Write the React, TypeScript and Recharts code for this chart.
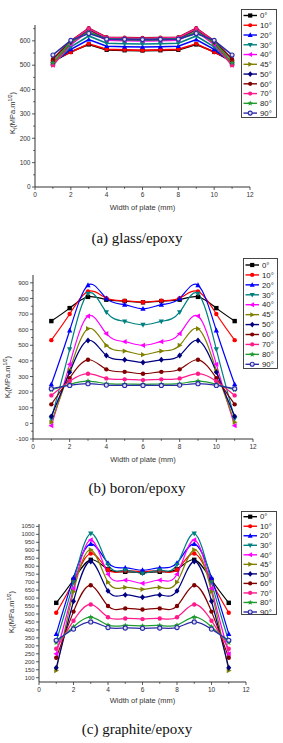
import React from 'react';
import { LineChart, Line, XAxis, YAxis, Legend } from 'recharts';

const X_VALUES = [1, 2, 3, 4, 5, 6, 7, 8, 9, 10, 11];
const X_TICKS = [0, 1, 2, 3, 4, 5, 6, 7, 8, 9, 10, 11, 12];

const ANGLES = ['0°', '10°', '20°', '30°', '40°', '45°', '50°', '60°', '70°', '80°', '90°'];
const COLORS = [
  '#000000', '#ff0000', '#0000ff', '#008080', '#ff00ff', '#808000',
  '#00007f', '#800000', '#ff1a8c', '#1f9b2f', '#2b2ba8',
];
const SHAPES = ['square', 'circle', 'triUp', 'triDown', 'triLeft', 'triRight', 'diamond', 'circle', 'circle', 'star', 'ring'];

// (a) glass/epoxy
const GLASS_0 = [515, 555, 585, 563, 561, 560, 561, 563, 585, 555, 515];
const GLASS_10 = [520, 553, 588, 565, 563, 561, 563, 565, 588, 553, 520];
const GLASS_20 = [510, 565, 605, 578, 576, 575, 576, 578, 605, 565, 510];
const GLASS_30 = [505, 575, 620, 590, 588, 587, 588, 590, 620, 575, 505];
const GLASS_40 = [500, 585, 640, 603, 601, 600, 601, 603, 640, 585, 500];
const GLASS_45 = [500, 590, 645, 607, 605, 604, 605, 607, 645, 590, 500];
const GLASS_50 = [505, 595, 648, 610, 608, 607, 608, 610, 648, 595, 505];
const GLASS_60 = [525, 600, 652, 615, 613, 612, 613, 615, 652, 600, 525];
const GLASS_70 = [500, 598, 650, 613, 611, 610, 611, 613, 650, 598, 500];
const GLASS_80 = [510, 597, 635, 608, 606, 605, 606, 608, 635, 597, 510];
const GLASS_90 = [542, 602, 630, 607, 606, 605, 606, 607, 630, 602, 542];

// (b) boron/epoxy
const BORON_0 = [655, 738, 810, 792, 783, 775, 783, 792, 810, 738, 655];
const BORON_10 = [533, 700, 845, 802, 785, 776, 785, 802, 845, 700, 533];
const BORON_20 = [250, 595, 885, 800, 760, 734, 760, 800, 885, 595, 250];
const BORON_30 = [30, 474, 830, 712, 653, 631, 653, 712, 830, 474, 30];
const BORON_40 = [-15, 378, 687, 574, 523, 500, 523, 574, 687, 378, -15];
const BORON_45 = [8, 340, 606, 500, 463, 440, 463, 500, 606, 340, 8];
const BORON_50 = [45, 328, 531, 435, 407, 390, 407, 435, 531, 328, 45];
const BORON_60 = [122, 290, 407, 346, 330, 318, 330, 346, 407, 290, 122];
const BORON_70 = [179, 270, 318, 288, 282, 277, 282, 288, 318, 270, 179];
const BORON_80 = [215, 250, 271, 254, 252, 250, 252, 254, 271, 250, 215];
const BORON_90 = [222, 243, 254, 245, 243, 243, 243, 245, 254, 243, 222];

// (c) graphite/epoxy
const GRAPH_0 = [570, 715, 840, 780, 765, 760, 765, 780, 840, 715, 570];
const GRAPH_10 = [508, 705, 880, 778, 772, 765, 772, 778, 880, 705, 508];
const GRAPH_20 = [375, 728, 940, 820, 790, 775, 790, 820, 940, 728, 375];
const GRAPH_30 = [330, 700, 1005, 810, 775, 755, 775, 810, 1005, 700, 330];
const GRAPH_40 = [250, 660, 965, 750, 712, 693, 712, 750, 965, 660, 250];
const GRAPH_45 = [145, 640, 903, 700, 667, 655, 667, 700, 903, 640, 145];
const GRAPH_50 = [162, 580, 830, 645, 620, 605, 620, 645, 830, 580, 162];
const GRAPH_60 = [225, 515, 680, 550, 535, 528, 535, 550, 680, 515, 225];
const GRAPH_70 = [282, 458, 560, 480, 472, 468, 472, 480, 560, 458, 282];
const GRAPH_80 = [320, 420, 480, 430, 428, 425, 428, 430, 480, 420, 320];
const GRAPH_90 = [335, 405, 450, 415, 412, 410, 412, 415, 450, 405, 335];

const GLASS = [GLASS_0, GLASS_10, GLASS_20, GLASS_30, GLASS_40, GLASS_45, GLASS_50, GLASS_60, GLASS_70, GLASS_80, GLASS_90];
const BORON = [BORON_0, BORON_10, BORON_20, BORON_30, BORON_40, BORON_45, BORON_50, BORON_60, BORON_70, BORON_80, BORON_90];
const GRAPH = [GRAPH_0, GRAPH_10, GRAPH_20, GRAPH_30, GRAPH_40, GRAPH_45, GRAPH_50, GRAPH_60, GRAPH_70, GRAPH_80, GRAPH_90];

const GLASS_Y_TICKS = [0, 50, 100, 150, 200, 250, 300, 350, 400, 450, 500, 550, 600, 650];
const BORON_Y_TICKS = [-100, -50, 0, 50, 100, 150, 200, 250, 300, 350, 400, 450, 500, 550, 600, 650, 700, 750, 800, 850, 900];
const GRAPH_Y_TICKS = [100, 150, 200, 250, 300, 350, 400, 450, 500, 550, 600, 650, 700, 750, 800, 850, 900, 950, 1000, 1050];

const AXIS = '#333';
const FONT = '"Liberation Sans", Arial, sans-serif';

function buildRows(series: number[][]) {
  return X_VALUES.map((x, i) => {
    const row: any = { x };
    series.forEach((s, j) => { row['s' + j] = s[i]; });
    return row;
  });
}

function Marker({ cx, cy, shape, color, r }: any) {
  if (cx == null || cy == null) return null;
  const pts = (arr: number[][]) => arr.map(p => `${cx + p[0] * r},${cy + p[1] * r}`).join(' ');
  switch (shape) {
    case 'square':
      return <rect x={cx - r} y={cy - r} width={2 * r} height={2 * r} fill={color} />;
    case 'triUp':
      return <polygon points={pts([[0, -1.3], [1.2, 0.9], [-1.2, 0.9]])} fill={color} />;
    case 'triDown':
      return <polygon points={pts([[0, 1.3], [1.2, -0.9], [-1.2, -0.9]])} fill={color} />;
    case 'triLeft':
      return <polygon points={pts([[-1.3, 0], [0.9, -1.2], [0.9, 1.2]])} fill={color} />;
    case 'triRight':
      return <polygon points={pts([[1.3, 0], [-0.9, -1.2], [-0.9, 1.2]])} fill={color} />;
    case 'diamond':
      return <polygon points={pts([[0, -1.35], [1.15, 0], [0, 1.35], [-1.15, 0]])} fill={color} />;
    case 'star': {
      const p: number[][] = [];
      for (let k = 0; k < 10; k++) {
        const a = -Math.PI / 2 + (k * Math.PI) / 5;
        const rr = k % 2 === 0 ? 1.35 : 0.6;
        p.push([Math.cos(a) * rr, Math.sin(a) * rr]);
      }
      return <polygon points={pts(p)} fill={color} />;
    }
    case 'ring':
      return <circle cx={cx} cy={cy} r={r * 0.95} fill="#dde" stroke={color} strokeWidth={1.1} />;
    default:
      return <circle cx={cx} cy={cy} r={r} fill={color} />;
  }
}

function XTick(props: any) {
  const { x, y, payload } = props;
  const v = payload.value;
  const major = v % 2 === 0;
  return (
    <g>
      <line x1={x} y1={y} x2={x} y2={y + (major ? 3 : 1.8)} stroke={AXIS} strokeWidth={0.8} />
      {major && (
        <text x={x} y={y + 9.5} textAnchor="middle" fontSize={6.5} fill="#333" fontFamily={FONT}>{v}</text>
      )}
    </g>
  );
}

function makeYTick(isMajor: (v: number) => boolean, fontSize: number) {
  return function YTick(props: any) {
    const { x, y, payload } = props;
    const v = payload.value;
    const major = isMajor(v);
    return (
      <g>
        <line x1={x - (major ? 3 : 1.8)} y1={y} x2={x} y2={y} stroke={AXIS} strokeWidth={0.8} />
        {major && (
          <text x={x - 4.5} y={y} dy="0.35em" textAnchor="end" fontSize={fontSize} fill="#333" fontFamily={FONT}>{v}</text>
        )}
      </g>
    );
  };
}

function LegendBox({ box }: any) {
  const { width, height, firstY, rowH } = box;
  return (
    <svg width={width} height={height} style={{ display: 'block', overflow: 'visible' }}>
      <rect x={0.5} y={0.5} width={width - 1} height={height - 1} fill="#fff" stroke="#333" strokeWidth={0.9} />
      {ANGLES.map((a, i) => {
        const cy = firstY + i * rowH;
        return (
          <g key={a}>
            <line x1={2.5} x2={16} y1={cy} y2={cy} stroke={COLORS[i]} strokeWidth={1.4} />
            <Marker cx={9.2} cy={cy} r={2.1} shape={SHAPES[i]} color={COLORS[i]} />
            <text x={19} y={cy} dy="0.35em" fontSize={7.8} fill="#222" fontFamily={FONT}>{a}</text>
          </g>
        );
      })}
    </svg>
  );
}

function Panel(p: any) {
  const rows = buildRows(p.series);
  const YTick = makeYTick(p.isMajor, p.yFont);
  return (
    <div style={{ position: 'absolute', left: 0, top: p.top, width: 283, height: p.height, fontFamily: FONT }}>
      <LineChart
        width={283}
        height={p.height}
        data={rows}
        margin={{ top: p.plot.top, right: 283 - p.plot.right, bottom: 0, left: 0 }}
      >
        <XAxis
          dataKey="x"
          type="number"
          domain={[0, 12]}
          ticks={X_TICKS}
          interval={0}
          tickSize={0}
          tickMargin={0}
          tick={<XTick />}
          height={p.height - p.plot.bottom}
          stroke={AXIS}
          allowDataOverflow
        />
        <YAxis
          type="number"
          domain={p.yDomain}
          ticks={p.yTicks}
          interval={0}
          tickSize={0}
          tickMargin={0}
          tick={<YTick />}
          width={p.plot.left}
          stroke={AXIS}
          allowDataOverflow
        />
        <Legend
          layout="vertical"
          align="center"
          verticalAlign="middle"
          wrapperStyle={{ left: p.legend.left, top: p.legend.top, width: p.legend.width, height: p.legend.height }}
          content={() => <LegendBox box={p.legend} />}
        />
        {ANGLES.map((a, i) => (
          <Line
            key={a}
            name={a}
            dataKey={'s' + i}
            type={p.curve}
            stroke={COLORS[i]}
            strokeWidth={p.strokeW}
            isAnimationActive={false}
            dot={(d: any) => (
              <Marker key={`${a}-${d.index}`} cx={d.cx} cy={d.cy} r={p.markerR} shape={SHAPES[i]} color={COLORS[i]} />
            )}
            activeDot={false}
          />
        ))}
      </LineChart>
      <div
        style={{
          position: 'absolute', left: p.yLabel[0], top: p.yLabel[1], transform: 'translate(-50%, -50%) rotate(-90deg)',
          whiteSpace: 'nowrap', fontSize: 7.5, color: '#333', lineHeight: 1,
        }}
      >
        K<sub style={{ fontSize: 5, verticalAlign: -1.5 }}>I</sub>(MPa.m<sup style={{ fontSize: 5, verticalAlign: 3 }}>1/2</sup>)
      </div>
      <div
        style={{
          position: 'absolute', left: (p.plot.left + p.plot.right) / 2, top: p.xTitleY, transform: 'translate(-50%, -50%)',
          whiteSpace: 'nowrap', fontSize: 7.5, color: '#333', lineHeight: 1,
        }}
      >
        Width of plate (mm)
      </div>
      <div
        style={{
          position: 'absolute', left: 137, top: p.captionY, transform: 'translate(-50%, -50%)',
          whiteSpace: 'nowrap', fontSize: 15, color: '#111', fontFamily: '"Liberation Serif", "Times New Roman", serif', lineHeight: 1,
        }}
      >
        {p.caption}
      </div>
    </div>
  );
}

export default function App() {
  return (
    <div style={{ position: 'absolute', left: 0, top: 0, width: 283, height: 743, background: '#fff', overflow: 'hidden' }}>
      <Panel
        top={0}
        height={250}
        series={GLASS}
        yDomain={[0, 665]}
        yTicks={GLASS_Y_TICKS}
        isMajor={(v: number) => v % 100 === 0}
        yFont={6.5}
        plot={{ left: 35, right: 250, top: 25, bottom: 187 }}
        curve="linear"
        strokeW={1.6}
        markerR={2.1}
        legend={{ left: 241, top: 9, width: 36, height: 109, firstY: 6.5, rowH: 9.76 }}
        yLabel={[12.5, 113]}
        xTitleY={208}
        captionY={238}
        caption="(a) glass/epoxy"
      />
      <Panel
        top={250}
        height={250}
        series={BORON}
        yDomain={[-100, 950]}
        yTicks={BORON_Y_TICKS}
        isMajor={(v: number) => v % 100 === 0}
        yFont={6.2}
        plot={{ left: 33, right: 253, top: 25, bottom: 189 }}
        curve="natural"
        strokeW={1.2}
        markerR={2.2}
        legend={{ left: 243, top: 8, width: 35, height: 111, firstY: 7, rowH: 9.93 }}
        yLabel={[8, 127]}
        xTitleY={210}
        captionY={238}
        caption="(b) boron/epoxy"
      />
      <Panel
        top={500}
        height={243}
        series={GRAPH}
        yDomain={[73, 1065]}
        yTicks={GRAPH_Y_TICKS}
        isMajor={() => true}
        yFont={5.8}
        plot={{ left: 39, right: 246, top: 24, bottom: 182 }}
        curve="natural"
        strokeW={1.2}
        markerR={2.2}
        legend={{ left: 241, top: 11, width: 36, height: 104, firstY: 5.7, rowH: 9.53 }}
        yLabel={[11.7, 112]}
        xTitleY={201}
        captionY={229}
        caption="(c) graphite/epoxy"
      />
    </div>
  );
}
